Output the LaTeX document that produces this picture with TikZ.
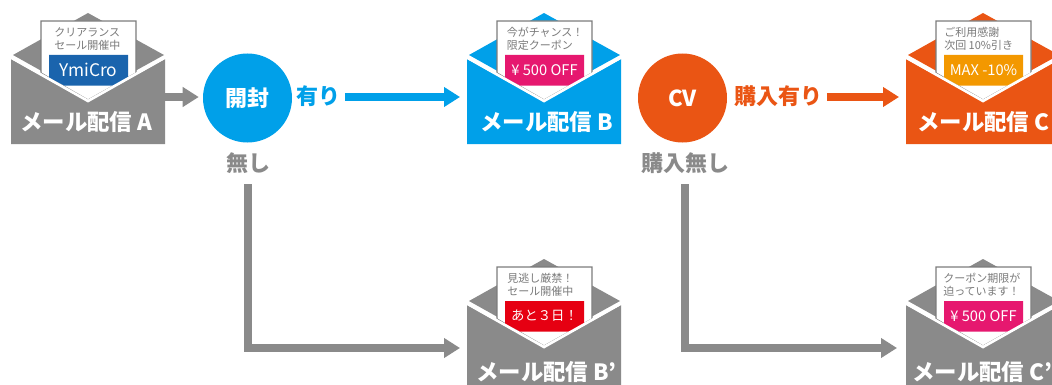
\documentclass[tikz,border=0pt]{standalone}
\usepackage{fontspec}
\setmainfont{Noto Sans CJK JP}
\usetikzlibrary{arrows.meta}
\definecolor{mgray}{HTML}{8A8A8A}
\definecolor{mblue}{HTML}{00A0E9}
\definecolor{morange}{HTML}{EA5514}
\definecolor{bandnavy}{HTML}{1A64AD}
\definecolor{bandpink}{HTML}{E6186F}
\definecolor{bandamber}{HTML}{F39800}
\definecolor{bandred}{HTML}{E60012}
\definecolor{lettertext}{HTML}{7A7A7A}
\tikzset{
  titletext/.style={text=white,font=\fontsize{16.8}{18}\bfseries\selectfont,anchor=west,inner sep=0pt},
  lettertxt/.style={text=lettertext,font=\fontsize{8.25}{9.9}\selectfont,anchor=west,inner sep=0pt},
  bandtext/.style={text=white,font=\fontsize{11}{12}\selectfont,inner sep=0pt},
  bubble/.style={circle,minimum size=66.75pt,inner sep=0pt,text=white,font=\fontsize{16.5}{18}\bfseries\selectfont},
  branch/.style={font=\fontsize{16.5}{18}\bfseries\selectfont,inner sep=0pt},
  flow/.style={line width=6pt,-{Triangle[length=12pt,width=14.25pt]}},
}
% name, ox, oy, colour, band colour, band text, letter text x, align, lines
\newcommand{\envelopeshape}[9]{%
  \begin{scope}[shift={(#2,#3)}]
    \fill[#4] (88,13) -- (164,55) -- (88,97) -- (13,55) -- cycle;
    \filldraw[fill=white,draw=mgray!90!black,line width=.9pt] (41,21) -- (136,21) -- (136,73) -- (88,100) -- (41,73) -- cycle;
    \fill[#5] (49,55) -- (128,55) -- (128,78) -- (113,85.5) -- (64,85.5) -- (49,78) -- cycle;
    \node[lettertxt,align=#8] (#1text) at (#7,39) {#9};
    \node[bandtext] (#1band) at (88.5,70) {#6};
    \fill[#4] (11,59) -- (88,102) -- (165,59) -- (165,144) -- (11,144) -- cycle;
    \draw[white,line width=2pt] (10,57) -- (88,101) -- (166,57);
    \coordinate (#1in) at (4,97);
    \coordinate (#1out) at (165,97);
  \end{scope}}
\begin{document}
\begin{tikzpicture}[x=.75pt,y=-.75pt]
\useasboundingbox (0,0) rectangle (1052,385);
\clip (0,0) rectangle (1052,385);
\envelopeshape{mailA}{0}{0}{mgray}{bandnavy}{\fontsize{13}{14}\selectfont YmiCro}{54}{center}{クリアランス\\セール開催中}
\envelopeshape{mailB}{456}{0}{mblue}{bandpink}{¥ 500 OFF}{50.5}{left}{今がチャンス！\\限定クーポン}
\envelopeshape{mailC}{895}{0}{morange}{bandamber}{MAX -10\%}{49}{left}{ご利用感謝\\次回 10\%引き}
\envelopeshape{mailBp}{456}{246}{mgray}{bandred}{\fontsize{10}{12}\selectfont あと３日！}{51}{left}{見逃し厳禁！\\セール開催中}
\envelopeshape{mailCp}{895}{246}{mgray}{bandpink}{¥ 500 OFF}{48}{left}{クーポン期限が\\迫っています！}

\node[titletext] (titleA) at (20,122) {メール配信 A};
\node[titletext] (titleB) at (480,122) {メール配信 B};
\node[titletext] (titleC) at (917,122) {メール配信 C};
\node[titletext] (titleBp) at (476,372) {メール配信 B'};
\node[titletext] (titleCp) at (912,372) {メール配信 C'};

\node[bubble,fill=mblue] (open) at (247.5,98) {開封};
\node[bubble,fill=morange] (cv) at (682.5,98) {CV};
\node[branch,text=mblue] (yes1) at (318.5,96) {有り};
\node[branch,text=morange] (yes2) at (778.5,96) {購入有り};
\node[branch,text=mgray] (no1) at (248,163) {無し};
\node[branch,text=mgray] (no2) at (685,163) {購入無し};

\draw[flow,mgray,shorten >=3pt] (mailAout) -- (open.west |- mailAout);
\draw[flow,mblue] ([xshift=3pt]yes1.east |- mailBin) -- (mailBin);
\draw[flow,morange] ([xshift=3pt]yes2.east |- mailCin) -- (mailCin);
\coordinate (bpin) at (460,348);
\coordinate (cpin) at (897,348);
\draw[flow,mgray] ([yshift=-8pt]no1.south) |- (bpin);
\draw[flow,mgray] ([yshift=-8pt]no2.south) |- (cpin);
\end{tikzpicture}
\end{document}
